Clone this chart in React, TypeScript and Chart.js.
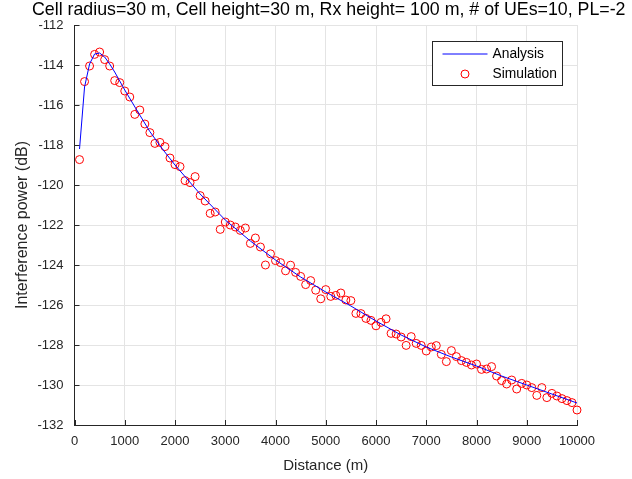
import React, { useEffect, useRef } from 'react';
import { Chart, registerables } from 'chart.js';

Chart.register(...registerables);

const TITLE = 'Cell radius=30 m, Cell height=30 m, Rx height= 100 m, # of UEs=10, PL=-2';
const X_LABEL = 'Distance (m)';
const Y_LABEL = 'Interference power (dB)';
const SERIES_NAMES = ['Analysis', 'Simulation'];

const X_MIN = 0;
const X_MAX = 10000;
const X_STEP = 1000;
const Y_MIN = -132;
const Y_MAX = -112;
const Y_STEP = 2;

const ANALYSIS_DIST = [100, 200, 300, 400, 500, 600, 700, 800, 900, 1000, 1250, 1500, 1750, 2000, 2500, 3000, 3500, 4000, 4500, 5000, 5500, 6000, 6500, 7000, 7500, 8000, 8500, 9000, 9500, 10000];
const ANALYSIS_DB = [-118.2, -115.1, -113.95, -113.45, -113.4, -113.6, -113.95, -114.35, -114.8, -115.25, -116.3, -117.33, -118.2, -119.0, -120.45, -121.75, -122.8, -123.75, -124.6, -125.35, -126.05, -126.8, -127.5, -128.1, -128.6, -129.05, -129.55, -130.0, -130.45, -130.9];

const SIM_DIST = [
  100, 200, 300, 400, 500, 600, 700, 800, 900, 1000,
  1100, 1200, 1300, 1400, 1500, 1600, 1700, 1800, 1900, 2000,
  2100, 2200, 2300, 2400, 2500, 2600, 2700, 2800, 2900, 3000,
  3100, 3200, 3300, 3400, 3500, 3600, 3700, 3800, 3900, 4000,
  4100, 4200, 4300, 4400, 4500, 4600, 4700, 4800, 4900, 5000,
  5100, 5200, 5300, 5400, 5500, 5600, 5700, 5800, 5900, 6000,
  6100, 6200, 6300, 6400, 6500, 6600, 6700, 6800, 6900, 7000,
  7100, 7200, 7300, 7400, 7500, 7600, 7700, 7800, 7900, 8000,
  8100, 8200, 8300, 8400, 8500, 8600, 8700, 8800, 8900, 9000,
  9100, 9200, 9300, 9400, 9500, 9600, 9700, 9800, 9900, 10000,
];
const SIM_DB = [
  -118.73, -114.83, -114.05, -113.47, -113.35, -113.73, -114.05, -114.78, -114.88, -115.3,
  -115.6, -116.47, -116.25, -116.95, -117.38, -117.92, -117.87, -118.08, -118.65, -118.98,
  -119.08, -119.78, -119.88, -119.58, -120.53, -120.8, -121.42, -121.35, -122.22, -121.85,
  -122.0, -122.1, -122.27, -122.15, -122.92, -122.65, -123.1, -124.0, -123.44, -123.78,
  -123.88, -124.29, -124.01, -124.37, -124.57, -124.98, -124.78, -125.26, -125.69, -125.23,
  -125.57, -125.52, -125.4, -125.75, -125.78, -126.42, -126.43, -126.67, -126.77, -127.04,
  -126.87, -126.69, -127.42, -127.45, -127.6, -128.02, -127.58, -127.92, -128.02, -128.3,
  -128.1, -128.03, -128.47, -128.83, -128.28, -128.58, -128.78, -128.87, -129.0, -128.95,
  -129.22, -129.2, -129.08, -129.55, -129.78, -129.95, -129.75, -130.2, -129.92, -130.0,
  -130.13, -130.52, -130.13, -130.63, -130.42, -130.55, -130.68, -130.78, -130.88, -131.25,
];

const FONT = "'Liberation Sans', Arial, Helvetica, sans-serif";
const AXIS_COLOR = '#262626';
const GRID_COLOR = '#e4e4e4';
const LINE_COLOR = '#0000ff';
const MARKER_COLOR = '#ff0000';

const inwardTicks = {
  id: 'inwardTicks',
  afterDraw(chart: any) {
    const { ctx, chartArea, scales } = chart;
    ctx.save();
    ctx.strokeStyle = AXIS_COLOR;
    ctx.lineWidth = 1;
    ctx.beginPath();
    scales.x.ticks.forEach((t: any) => {
      const px = Math.round(scales.x.getPixelForValue(t.value)) + 0.5;
      ctx.moveTo(px, chartArea.bottom);
      ctx.lineTo(px, chartArea.bottom - 5);
    });
    scales.y.ticks.forEach((t: any) => {
      const py = Math.round(scales.y.getPixelForValue(t.value)) + 0.5;
      ctx.moveTo(chartArea.left, py);
      ctx.lineTo(chartArea.left + 5, py);
    });
    ctx.stroke();
    ctx.restore();
  },
};

const topTitle = {
  id: 'topTitle',
  afterDraw(chart: any) {
    const { ctx, chartArea } = chart;
    ctx.save();
    ctx.fillStyle = '#000000';
    ctx.font = `17.8px ${FONT}`;
    ctx.textAlign = 'center';
    ctx.textBaseline = 'middle';
    ctx.fillText(TITLE, (chartArea.left + chartArea.right) / 2 + 3, chartArea.top - 15);
    ctx.restore();
  },
};

const boxLegend = {
  id: 'boxLegend',
  afterDraw(chart: any) {
    const { ctx, chartArea } = chart;
    const bx = Math.round(chartArea.right - 145.5) + 0.5;
    const by = Math.round(chartArea.top + 15.5) + 0.5;
    const bw = 130;
    const bh = 44;
    ctx.save();
    ctx.fillStyle = '#ffffff';
    ctx.fillRect(bx, by, bw, bh);
    ctx.strokeStyle = AXIS_COLOR;
    ctx.lineWidth = 1;
    ctx.strokeRect(bx, by, bw, bh);
    const row1 = by + 12.5;
    const row2 = by + 32.5;
    ctx.strokeStyle = LINE_COLOR;
    ctx.beginPath();
    ctx.moveTo(bx + 10, row1);
    ctx.lineTo(bx + 55, row1);
    ctx.stroke();
    ctx.strokeStyle = MARKER_COLOR;
    ctx.beginPath();
    ctx.arc(bx + 32.5, row2, 4, 0, Math.PI * 2);
    ctx.stroke();
    ctx.fillStyle = '#000000';
    ctx.font = `13.8px ${FONT}`;
    ctx.textBaseline = 'middle';
    ctx.textAlign = 'left';
    ctx.fillText(SERIES_NAMES[0], bx + 60, row1);
    ctx.fillText(SERIES_NAMES[1], bx + 60, row2);
    ctx.restore();
  },
};

export default function App() {
  const ref = useRef<HTMLCanvasElement | null>(null);

  useEffect(() => {
    if (!ref.current) return;
    const chart = new Chart(ref.current, {
      type: 'line',
      data: {
        datasets: [
          {
            label: SERIES_NAMES[0],
            data: ANALYSIS_DIST.map((x, i) => ({ x, y: ANALYSIS_DB[i] })),
            borderColor: LINE_COLOR,
            borderWidth: 1,
            pointRadius: 0,
            tension: 0,
            fill: false,
          },
          {
            label: SERIES_NAMES[1],
            data: SIM_DIST.map((x, i) => ({ x, y: SIM_DB[i] })),
            showLine: false,
            borderColor: MARKER_COLOR,
            backgroundColor: 'rgba(0,0,0,0)',
            pointRadius: 4,
            pointBorderWidth: 1,
            pointStyle: 'circle',
            clip: false as any,
          },
        ],
      },
      options: {
        animation: false,
        responsive: true,
        maintainAspectRatio: false,
        layout: { padding: { left: 0, right: 55, top: 25, bottom: 0 } },
        plugins: {
          legend: { display: false },
          tooltip: { enabled: false },
          title: { display: false },
        },
        scales: {
          x: {
            type: 'linear',
            min: X_MIN,
            max: X_MAX,
            afterFit: (s: any) => { s.height = 54; },
            ticks: {
              stepSize: X_STEP,
              autoSkip: false,
              maxRotation: 0,
              color: AXIS_COLOR,
              font: { family: FONT, size: 13 },
              padding: 9,
              callback: (v: any) => String(v),
            },
            grid: { color: GRID_COLOR, drawTicks: false, lineWidth: 1 },
            border: { color: AXIS_COLOR, width: 1 },
            title: {
              display: true,
              text: X_LABEL,
              color: AXIS_COLOR,
              font: { family: FONT, size: 15 },
              padding: { top: 0, bottom: 4.5 },
            },
          },
          y: {
            type: 'linear',
            min: Y_MIN,
            max: Y_MAX,
            afterFit: (s: any) => { s.width = 74.5; },
            ticks: {
              stepSize: Y_STEP,
              autoSkip: false,
              color: AXIS_COLOR,
              font: { family: FONT, size: 13 },
              padding: 11,
              callback: (v: any) => String(v),
            },
            grid: { color: GRID_COLOR, drawTicks: false, lineWidth: 1 },
            border: { color: AXIS_COLOR, width: 1 },
            title: {
              display: true,
              text: Y_LABEL,
              color: AXIS_COLOR,
              font: { family: FONT, size: 16 },
              padding: { top: 12.5, bottom: 0 },
            },
          },
        },
      },
      plugins: [inwardTicks, boxLegend, topTitle],
    });
    return () => chart.destroy();
  }, []);

  return (
    <div style={{ position: 'absolute', left: 0, top: 0, width: 632, height: 479, background: '#ffffff' }}>
      <canvas ref={ref} />
    </div>
  );
}
